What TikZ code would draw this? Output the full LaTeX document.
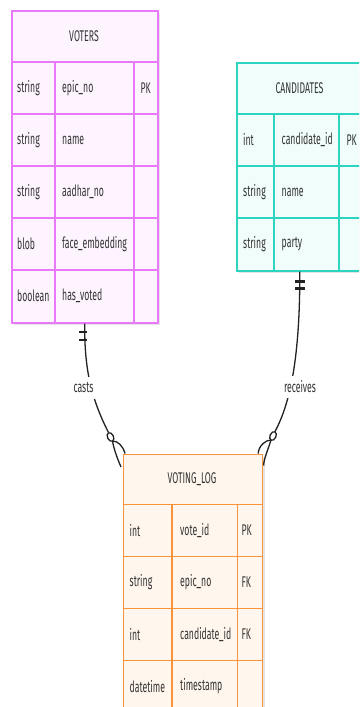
\documentclass[tikz,border=0pt]{standalone}
\usepackage{fontspec}
\setmainfont{Fira Sans}[FakeStretch=0.56]
\usetikzlibrary{calc}
\definecolor{vfill}{HTML}{FDF4FF}
\definecolor{vstroke}{HTML}{E879F9}
\definecolor{cfill}{HTML}{F0FDFA}
\definecolor{cstroke}{HTML}{2DD4BF}
\definecolor{lfill}{HTML}{FFF7ED}
\definecolor{lstroke}{HTML}{FB923C}
\definecolor{tcol}{HTML}{333333}
\definecolor{ecol}{HTML}{222222}
\definecolor{shadowcol}{HTML}{E4E4E4}
\begin{document}
\begin{tikzpicture}[x=1pt,y=-1pt,
  tbl/.style={line width=1.6pt, inner sep=0pt, anchor=north west},
  grid/.style={line width=1.4pt},
  shade/.style={fill=shadowcol},
  txt/.style={font=\fontsize{15.5}{18}\selectfont, text=tcol, inner sep=0pt},
  cell/.style={txt, anchor=west},
  edge/.style={draw=ecol, line width=1.3pt},
  bar/.style={draw=ecol, line width=2.5pt},
  rlabel/.style={txt, fill=white, inner xsep=2pt, minimum height=22pt}]
\useasboundingbox (0,0) rectangle (359,707);
\clip (0,0) rectangle (359,707);
\fill[white] (0,0) rectangle (359,707);

% ---------- VOTERS ----------
\fill[shade] (14,13) rectangle (160,325);
\node[tbl, draw=vstroke, fill=vfill, minimum width=146pt, minimum height=312pt] (voters) at (11,10) {};
\foreach \yy in {62,114,166,218,270}
  \draw[grid, vstroke] (11,\yy) -- (157,\yy);
\draw[grid, vstroke] (55,62) -- (55,322);
\draw[grid, vstroke] (134,62) -- (134,322);
\node[txt] (vh) at (84,36) {VOTERS};
\foreach \t/\n [count=\i] in {string/epic\_no, string/name, string/aadhar\_no, blob/face\_embedding, boolean/has\_voted}{
  \node[cell] (vt\i) at (17,{36+52*\i}) {\t};
  \node[cell] (vn\i) at (62,{36+52*\i}) {\n};
}
\node[cell] (vk1) at (140.5,88) {PK};

% ---------- CANDIDATES ----------
\fill[shade] (239,65) rectangle (365,273);
\node[tbl, draw=cstroke, fill=cfill, minimum width=126pt, minimum height=208pt] (candidates) at (236,62) {};
\foreach \yy in {114,166,218}
  \draw[grid, cstroke] (236,\yy) -- (362,\yy);
\draw[grid, cstroke] (274,114) -- (274,270);
\draw[grid, cstroke] (339,114) -- (339,270);
\node[txt] (ch) at (299.5,88) {CANDIDATES};
\foreach \t/\n [count=\i] in {int/candidate\_id, string/name, string/party}{
  \node[cell] (ct\i) at (243,{88+52*\i}) {\t};
  \node[cell] (cn\i) at (281.5,{88+52*\i}) {\n};
}
\node[cell] (ck1) at (346.5,140) {PK};

% ---------- VOTING_LOG ----------
\fill[shade] (125.5,456.5) rectangle (264.5,715);
\node[tbl, draw=lstroke, fill=lfill, minimum width=139pt, minimum height=259pt] (vl) at (122.5,453.5) {};
\foreach \yy in {504.5,556.5,608.5,660.5}
  \draw[grid, lstroke] (122.5,\yy) -- (261.5,\yy);
\draw[grid, lstroke] (172,504.5) -- (172,712.5);
\draw[grid, lstroke] (237.5,504.5) -- (237.5,712.5);
\node[txt] (lh) at (192,479) {VOTING\_LOG};
\foreach \t/\n [count=\i] in {int/vote\_id, string/epic\_no, int/candidate\_id, datetime/timestamp}{
  \node[cell] (lt\i) at (129.5,{478.5+52*\i}) {\t};
  \node[cell] (ln\i) at (180,{478.5+52*\i}) {\n};
}
\node[cell] (lk1) at (241.5,530.5) {PK};
\node[cell] (lk2) at (241.5,582.5) {FK};
\node[cell] (lk3) at (241.5,634.5) {FK};

% ---------- casts (VOTERS ||--o{ VOTING_LOG) ----------
\coordinate (lcirc) at (110.5,437);
\coordinate (lfoot) at (112.5,441);
\draw[edge] (voters.south) .. controls (84,370) and (92,400) .. (108.5,432.5);
\draw[edge] (lcirc) ellipse [x radius=3pt, y radius=4.6pt, rotate=27];
\draw[edge] (lfoot) .. controls (118,441) and (123,446) .. ($(vl.north west)+(2.5,0)$);
\draw[edge] (lfoot) .. controls (114,450) and (118,460) .. ($(vl.north west)+(-1.5,13.5)$);
\draw[bar] (79,332) -- (87,332);
\draw[bar] (79,340) -- (87,340);
\node[rlabel] (casts) at (83.5,387.5) {casts};

% ---------- receives (CANDIDATES ||--o{ VOTING_LOG) ----------
\coordinate (rcirc) at (273,436);
\coordinate (rfoot) at (271,440);
\draw[edge] (candidates.south) .. controls (300,350) and (292,400) .. (275,431.5);
\draw[edge] (rcirc) ellipse [x radius=3pt, y radius=4.6pt, rotate=-25];
\draw[edge] (rfoot) .. controls (266,440) and (259,445) .. ($(vl.north east)+(-5,0)$);
\draw[edge] (rfoot) .. controls (268,450) and (264,458) .. ($(vl.north east)+(0.5,12)$);
\draw[bar] (295,281.3) -- (305,281.3);
\draw[bar] (295,288.7) -- (305,288.7);
\node[rlabel] (receives) at (300,387) {receives};
\end{tikzpicture}
\end{document}
